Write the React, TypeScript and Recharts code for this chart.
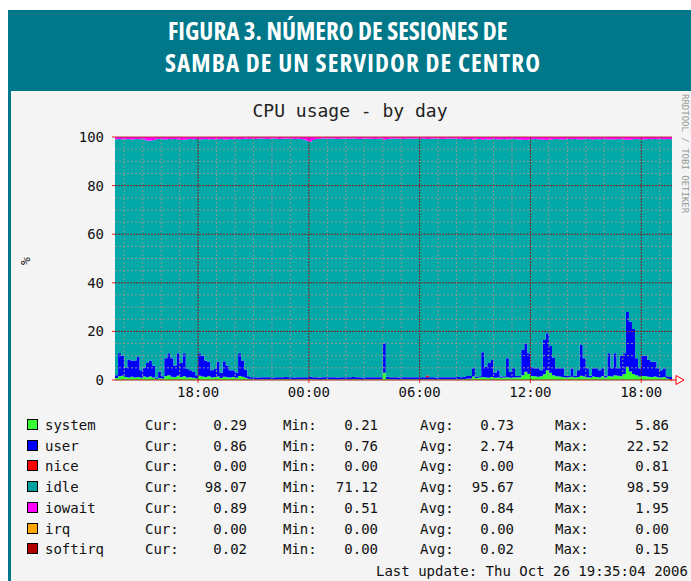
import { Area, AreaChart, ReferenceLine, XAxis, YAxis } from "recharts";

// 10-minute samples starting at 13:30
const stepMinutes = 10;

const system = [
  0.8, 1.5, 1.8, 1.2, 1.0, 1.3, 1.0, 1.2, 0.9, 1.4,
  1.1, 1.4, 1.0, 0.5, 0.8, 0.6, 1.6, 2.0, 1.3, 1.1,
  1.8, 1.2, 1.5, 1.0, 1.1, 0.9, 0.7, 1.7, 1.4, 1.2,
  1.5, 1.0, 1.2, 1.4, 0.8, 1.3, 1.1, 1.0, 1.2, 0.9,
  1.6, 1.3, 0.9, 0.5, 0.3, 0.3, 0.2, 0.3, 0.3, 0.3,
  0.3, 0.2, 0.3, 0.3, 0.3, 0.4, 0.3, 0.3, 0.2, 0.3,
  0.3, 0.3, 0.3, 0.4, 0.3, 0.3, 0.2, 0.3, 0.3, 0.3,
  0.3, 0.3, 0.2, 0.3, 0.3, 0.3, 0.3, 0.4, 0.3, 0.3,
  0.2, 0.3, 0.3, 0.3, 0.3, 0.3, 0.3, 3.0, 0.4, 0.3,
  0.3, 0.3, 0.2, 0.3, 0.3, 0.3, 0.3, 0.3, 0.3, 0.3,
  0.3, 0.3, 0.3, 0.3, 0.2, 0.3, 0.3, 0.3, 0.3, 0.3,
  0.3, 0.4, 0.3, 0.4, 0.5, 0.6, 1.4, 0.8, 1.0, 1.2,
  1.0, 0.9, 1.2, 0.9, 1.0, 0.9, 1.0, 1.1, 0.9, 1.0,
  1.0, 1.1, 2.0, 3.4, 2.5, 1.6, 1.5, 1.3, 1.5, 2.4,
  4.0, 3.0, 2.0, 1.5, 1.4, 1.2, 1.0, 1.1, 1.3, 1.0,
  1.2, 1.8, 1.4, 1.1, 1.0, 1.4, 1.2, 1.0, 1.5, 1.0,
  1.6, 1.4, 2.0, 1.8, 1.5, 2.5, 5.5, 3.5, 2.5, 2.0,
  1.4, 1.6, 1.5, 1.3, 1.2, 1.4, 1.1, 1.0, 1.2, 0.6,
  0.3, 0.3,
];

const user = [
  1.2, 9.5, 8.2, 3.8, 7.4, 6.7, 7.0, 8.3, 3.1, 3.6,
  5.9, 6.6, 5.0, 0.5, 2.7, 0.9, 7.4, 9.0, 7.7, 4.9,
  9.2, 5.8, 9.5, 3.5, 2.9, 2.6, 1.3, 9.3, 8.6, 6.8,
  6.0, 3.0, 3.3, 6.1, 2.2, 6.4, 4.9, 3.0, 2.8, 2.1,
  9.4, 6.7, 3.4, 1.0, 0.8, 0.8, 0.8, 0.8, 0.8, 0.8,
  0.8, 0.8, 0.8, 0.8, 0.8, 0.8, 0.8, 0.8, 0.8, 0.8,
  0.8, 0.8, 0.8, 0.9, 0.8, 0.8, 0.8, 0.8, 0.8, 0.8,
  0.8, 0.8, 0.8, 0.8, 0.8, 0.8, 0.8, 0.8, 0.8, 0.8,
  0.8, 0.8, 0.8, 0.8, 0.8, 0.8, 0.8, 12.3, 0.9, 0.8,
  0.8, 0.8, 0.8, 0.8, 0.8, 0.8, 0.8, 0.8, 0.8, 0.8,
  0.8, 0.8, 0.8, 0.8, 0.8, 0.8, 0.8, 0.8, 0.8, 0.8,
  0.8, 0.8, 0.8, 0.8, 1.1, 1.0, 3.4, 0.5, 0.5, 10.2,
  4.5, 6.1, 7.0, 2.1, 3.0, 0.5, 0.5, 7.9, 2.5, 3.8,
  0.6, 0.5, 10.3, 11.6, 8.5, 3.9, 3.3, 3.5, 2.5, 14.1,
  15.2, 11.0, 7.3, 3.3, 3.4, 3.6, 0.6, 0.5, 3.5, 0.8,
  2.8, 12.6, 7.6, 3.7, 0.8, 3.4, 3.6, 3.0, 3.3, 0.8,
  9.4, 3.4, 9.0, 3.0, 8.4, 8.5, 22.5, 20.5, 18.5, 7.0,
  3.4, 8.4, 8.5, 6.9, 6.3, 6.1, 3.7, 3.0, 3.6, 0.9,
  0.9, 0.9,
];

const nice = [
  0, 0, 0, 0, 0, 0, 0, 0, 0, 0, 0, 0, 0, 0, 0, 0, 0, 0, 0, 0,
  0, 0, 0, 0, 0, 0, 0, 0, 0, 0, 0, 0, 0, 0, 0, 0, 0, 0, 0, 0,
  0, 0, 0, 0, 0, 0, 0, 0, 0, 0, 0, 0, 0, 0, 0, 0, 0, 0, 0, 0,
  0, 0, 0, 0, 0, 0, 0, 0, 0, 0, 0, 0, 0, 0, 0, 0, 0, 0, 0, 0,
  0, 0, 0, 0, 0, 0, 0, 0, 0, 0, 0, 0, 0, 0, 0, 0, 0, 0, 0, 0,
  0, 0.8, 0, 0, 0, 0, 0, 0, 0, 0, 0, 0, 0, 0, 0, 0, 0, 0, 0, 0,
  0, 0, 0, 0, 0, 0, 0, 0, 0, 0, 0, 0, 0, 0, 0, 0, 0, 0, 0, 0,
  0, 0, 0, 0, 0, 0, 0, 0, 0, 0, 0, 0, 0, 0, 0, 0, 0, 0, 0, 0,
  0, 0, 0, 0, 0, 0, 0, 0, 0, 0, 0, 0, 0, 0, 0, 0, 0, 0, 0, 0,
  0, 0,
];

const iowait = [
  0.9, 0.8, 1.0, 0.9, 0.8, 1.0, 0.9, 0.8, 0.9, 1.0,
  1.4, 1.5, 1.3, 0.9, 0.8, 0.9, 1.0, 0.8, 0.9, 0.8,
  1.0, 1.2, 1.1, 0.9, 0.8, 0.9, 0.8, 1.0, 0.9, 0.8,
  0.9, 0.8, 1.0, 0.9, 0.8, 0.9, 1.0, 0.8, 0.9, 0.8,
  0.9, 0.8, 0.7, 0.8, 0.7, 0.8, 0.7, 0.6, 0.7, 0.8,
  0.7, 0.6, 0.7, 0.8, 0.7, 0.6, 0.7, 0.7, 0.8, 0.7,
  0.8, 1.0, 1.5, 1.9, 1.2, 0.8, 0.7, 0.6, 0.7, 0.7,
  0.6, 0.7, 0.8, 0.7, 0.6, 0.7, 0.7, 0.6, 0.7, 0.8,
  0.7, 0.6, 0.7, 0.7, 0.8, 0.7, 0.6, 1.1, 0.8, 0.7,
  0.6, 0.7, 0.7, 0.8, 0.7, 0.6, 0.7, 0.7, 0.6, 0.7,
  0.7, 0.8, 0.7, 0.6, 0.7, 0.7, 0.8, 0.7, 0.6, 0.7,
  0.7, 0.8, 0.7, 0.8, 0.9, 0.8, 1.0, 0.9, 0.8, 1.1,
  0.9, 1.0, 0.9, 0.8, 1.0, 0.9, 0.8, 1.0, 0.9, 0.8,
  0.9, 1.0, 1.1, 1.2, 1.0, 0.9, 0.8, 0.9, 1.0, 1.1,
  1.2, 1.0, 0.9, 0.8, 0.9, 1.0, 0.9, 0.8, 0.9, 0.8,
  0.9, 1.0, 0.9, 0.8, 0.9, 1.0, 0.8, 0.9, 0.8, 0.9,
  1.0, 0.9, 1.0, 0.8, 0.9, 1.0, 1.1, 1.0, 0.9, 0.8,
  0.9, 1.0, 0.9, 0.8, 0.9, 0.8, 0.9, 0.8, 0.9, 0.8,
  0.9, 0.9,
];

const majorTicks = [270, 630, 990, 1350, 1710];
const majorLabels = ["18:00", "00:00", "06:00", "12:00", "18:00"];
const minorTicks = [
  30, 90, 150, 210, 330, 390, 450, 510, 570, 690, 750, 810, 870, 930, 1050,
  1110, 1170, 1230, 1290, 1410, 1470, 1530, 1590, 1650, 1770,
];
const yMajor = [20, 40, 60, 80, 100];
const yMinor = [5, 10, 15, 25, 30, 35, 45, 50, 55, 65, 70, 75, 85, 90, 95];

const legendNames = ["system", "user", "nice", "idle", "iowait", "irq", "softirq"];
const legendColors = ["#33ff33", "#0000ff", "#ff0000", "#00a0a0", "#ff00ff", "#ffa500", "#b00000"];
const curValues = ["0.29", "0.86", "0.00", "98.07", "0.89", "0.00", "0.02"];
const minValues = ["0.21", "0.76", "0.00", "71.12", "0.51", "0.00", "0.00"];
const avgValues = ["0.73", "2.74", "0.00", "95.67", "0.84", "0.00", "0.02"];
const maxValues = ["5.86", "22.52", "0.81", "98.59", "1.95", "0.00", "0.15"];

const rows = system.map((s, i) => ({
  t: i * stepMinutes,
  system: s,
  user: user[i],
  nice: nice[i],
  idle: 100 - s - user[i] - nice[i] - iowait[i],
  iowait: iowait[i],
}));

const TEAL = "#00788a";
const MONO = "'DejaVu Sans Mono', monospace";

function tickLabel(v: number) {
  const k = majorTicks.indexOf(v);
  return k >= 0 ? majorLabels[k] : "";
}

export default function App() {
  const txt: React.CSSProperties = {
    position: "absolute",
    fontFamily: MONO,
    fontSize: 14,
    lineHeight: "16px",
    color: "#111",
    whiteSpace: "pre",
  };
  const head: React.CSSProperties = {
    position: "absolute",
    color: "#fff",
    fontFamily: "'Open Sans', sans-serif",
    fontWeight: 700,
    fontSize: 25,
    lineHeight: "32px",
    fontStretch: "75%",
    whiteSpace: "pre",
  };
  return (
    <div style={{ position: "absolute", left: 0, top: 0, width: 691, height: 581, background: "#fff", overflow: "hidden" }}>
      <div style={{ position: "absolute", left: 8, top: 10, width: 683, height: 78, background: TEAL }} />
      <div style={{ ...head, left: 168, top: 14 }}>FIGURA 3. NÚMERO DE SESIONES DE</div>
      <div style={{ ...head, left: 165, top: 46, letterSpacing: 1.1 }}>SAMBA DE UN SERVIDOR DE CENTRO</div>
      <div
        style={{
          position: "absolute",
          left: 8,
          top: 88,
          width: 683,
          height: 493,
          background: "#f4f4f4",
          borderLeft: `3px solid ${TEAL}`,
          borderTop: `3px solid ${TEAL}`,
          boxSizing: "border-box",
        }}
      />
      <div style={{ ...txt, left: 0, width: 700, top: 101, fontSize: 18, lineHeight: "20px", textAlign: "center", color: "#222" }}>
        CPU usage - by day
      </div>
      <div style={{ ...txt, left: 22, top: 253, fontSize: 13, transform: "rotate(-90deg)" }}>%</div>
      <div style={{ ...txt, left: 680, top: 94, fontSize: 9, lineHeight: "10px", color: "#999", writingMode: "vertical-rl" }}>
        RRDTOOL / TOBI OETIKER
      </div>

      <div style={{ position: "absolute", left: 0, top: 91 }}>
        <AreaChart width={691} height={340} data={rows} margin={{ top: 46, right: 19, bottom: 21, left: 0 }}>
          <XAxis
            dataKey="t"
            type="number"
            domain={[0, 1810]}
            ticks={majorTicks}
            tickFormatter={tickLabel}
            interval={0}
            axisLine={{ stroke: "#aa1a1a" }}
            tickLine={{ stroke: "#ee2222" }}
            tickSize={3}
            tickMargin={4}
            tick={{ fill: "#111", fontSize: 14, fontFamily: MONO }}
            height={30}
          />
          <YAxis
            type="number"
            domain={[0, 100]}
            ticks={[0, 20, 40, 60, 80, 100]}
            width={115}
            axisLine={false}
            tickLine={{ stroke: "#ee2222" }}
            tickSize={3}
            tickMargin={8}
            tick={{ fill: "#111", fontSize: 14, fontFamily: MONO }}
          />
          <Area type="stepAfter" dataKey="system" stackId="cpu" fill="#33ff33" fillOpacity={1} stroke="none" isAnimationActive={false} />
          <Area type="stepAfter" dataKey="user" stackId="cpu" fill="#0000ff" fillOpacity={1} stroke="none" isAnimationActive={false} />
          <Area type="stepAfter" dataKey="nice" stackId="cpu" fill="#ff0000" fillOpacity={1} stroke="none" isAnimationActive={false} />
          <Area type="stepAfter" dataKey="idle" stackId="cpu" fill="#00a8a8" fillOpacity={1} stroke="none" isAnimationActive={false} />
          <Area type="stepAfter" dataKey="iowait" stackId="cpu" fill="#ff00ff" fillOpacity={1} stroke="none" isAnimationActive={false} />
          {yMinor.map((v) => (
            <ReferenceLine key={`ym${v}`} y={v} stroke="#949494" strokeDasharray="2 2" />
          ))}
          {minorTicks.map((v) => (
            <ReferenceLine key={`xm${v}`} x={v} stroke="#949494" strokeDasharray="2 2" />
          ))}
          {yMajor.map((v) => (
            <ReferenceLine key={`yM${v}`} y={v} stroke={v === 100 ? "#c03030" : "#802020"} strokeDasharray={v === 100 ? undefined : "2 1"} />
          ))}
          {majorTicks.map((v) => (
            <ReferenceLine key={`xM${v}`} x={v} stroke="#802020" strokeDasharray="2 1" />
          ))}
        </AreaChart>
      </div>

      <svg style={{ position: "absolute", left: 670, top: 374 }} width={18} height={12}>
        <line x1={0} y1={6} x2={6} y2={6} stroke="#ff0000" />
        <polygon points="6,1.5 14,6 6,10.5" fill="none" stroke="#ff0000" />
      </svg>

      {legendNames.map((name, k) => {
        const top = 417 + k * 20.7;
        return (
          <div key={name}>
            <div
              style={{
                position: "absolute",
                left: 27,
                top: top + 2,
                width: 9,
                height: 9,
                background: legendColors[k],
                border: "1px solid #000",
              }}
            />
            <div style={{ ...txt, left: 45, top }}>{name}</div>
            <div style={{ ...txt, left: 145, top }}>Cur:</div>
            <div style={{ ...txt, left: 185, width: 62, top, textAlign: "right" }}>{curValues[k]}</div>
            <div style={{ ...txt, left: 283, top }}>Min:</div>
            <div style={{ ...txt, left: 316, width: 62, top, textAlign: "right" }}>{minValues[k]}</div>
            <div style={{ ...txt, left: 420, top }}>Avg:</div>
            <div style={{ ...txt, left: 452, width: 62, top, textAlign: "right" }}>{avgValues[k]}</div>
            <div style={{ ...txt, left: 555, top }}>Max:</div>
            <div style={{ ...txt, left: 607, width: 62, top, textAlign: "right" }}>{maxValues[k]}</div>
          </div>
        );
      })}
      <div style={{ ...txt, left: 376, width: 302, top: 563, textAlign: "right" }}>
        Last update: Thu Oct 26 19:35:04 2006
      </div>
    </div>
  );
}
